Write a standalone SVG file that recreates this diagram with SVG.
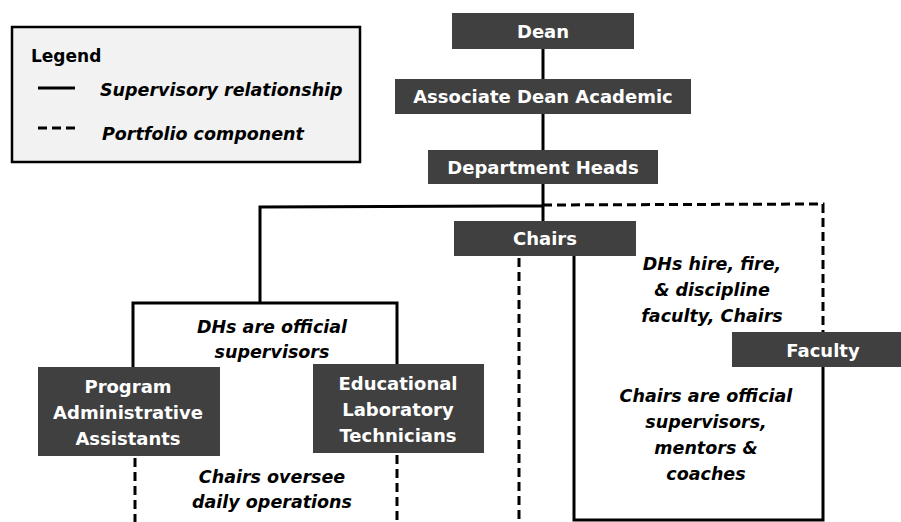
<svg xmlns="http://www.w3.org/2000/svg" width="901" height="522" viewBox="0 0 901 522">
<style>
.box{fill:#404040;}
.nt{font-family:"DejaVu Sans",sans-serif;font-weight:700;font-size:18px;fill:#ffffff;text-anchor:middle;}
.lb{font-family:"DejaVu Sans",sans-serif;font-weight:700;font-style:italic;font-size:17.5px;fill:#000;text-anchor:middle;}
.s{stroke:#000;stroke-width:3;fill:none;}
.d{stroke:#000;stroke-width:3;fill:none;stroke-dasharray:9 5;}
</style>
<rect width="901" height="522" fill="#ffffff"/>
<g id="legend">
<rect x="12" y="27" width="348" height="135" fill="#f2f2f2" stroke="#000" stroke-width="2.5"/>
<text x="31" y="62" font-family="'DejaVu Sans',sans-serif" font-weight="700" font-size="17px">Legend</text>
<line x1="38" y1="88" x2="75" y2="88" class="s"/>
<text x="100" y="96" class="lb" style="text-anchor:start">Supervisory relationship</text>
<line x1="38" y1="128" x2="77" y2="128" class="d"/>
<text x="102" y="140" class="lb" style="text-anchor:start">Portfolio component</text>
</g>
<g id="connectors">
<line x1="543" y1="49" x2="543" y2="79" class="s"/>
<line x1="543" y1="114" x2="543" y2="150" class="s"/>
<line x1="543" y1="184" x2="543" y2="221" class="s"/>
<polyline points="543,206 260,207 260,303" class="s"/>
<polyline points="133,367 133,303 397,303 397,364" class="s"/>
<polyline points="543,205 823,204 823,332" class="d"/>
<polyline points="574,256 574,520 823,520 823,367" class="s"/>
<line x1="519" y1="258" x2="519" y2="522" class="d"/>
<line x1="135" y1="458" x2="135" y2="522" class="d"/>
<line x1="397" y1="455" x2="397" y2="522" class="d"/>
</g>
<g id="dean">
<rect x="452" y="13" width="182" height="36" class="box"/>
<text x="543" y="38" class="nt">Dean</text>
</g>
<g id="associate-dean">
<rect x="395" y="79" width="296" height="35" class="box"/>
<text x="543" y="103" class="nt">Associate Dean Academic</text>
</g>
<g id="department-heads">
<rect x="428" y="150" width="230" height="34" class="box"/>
<text x="543" y="174" class="nt">Department Heads</text>
</g>
<g id="chairs">
<rect x="454" y="221" width="182" height="35" class="box"/>
<text x="545" y="245" class="nt">Chairs</text>
</g>
<g id="faculty">
<rect x="732" y="332" width="169" height="35" class="box"/>
<text x="823" y="357" class="nt">Faculty</text>
</g>
<g id="program-admin">
<rect x="38" y="367" width="182" height="89" class="box"/>
<text x="128" y="393" class="nt">Program</text>
<text x="128" y="419" class="nt">Administrative</text>
<text x="128" y="445" class="nt">Assistants</text>
</g>
<g id="lab-tech">
<rect x="313" y="364" width="171" height="89" class="box"/>
<text x="398" y="390" class="nt">Educational</text>
<text x="398" y="416" class="nt">Laboratory</text>
<text x="398" y="442" class="nt">Technicians</text>
</g>
<g id="labels">
<text x="272" y="333" class="lb">DHs are official</text>
<text x="272" y="358" class="lb">supervisors</text>
<text x="272" y="483" class="lb">Chairs oversee</text>
<text x="272" y="508" class="lb">daily operations</text>
<text x="712" y="270" class="lb">DHs hire, fire,</text>
<text x="712" y="296" class="lb">&amp; discipline</text>
<text x="712" y="322" class="lb">faculty, Chairs</text>
<text x="706" y="402" class="lb">Chairs are official</text>
<text x="706" y="428" class="lb">supervisors,</text>
<text x="706" y="454" class="lb">mentors &amp;</text>
<text x="706" y="480" class="lb">coaches</text>
</g>
</svg>
